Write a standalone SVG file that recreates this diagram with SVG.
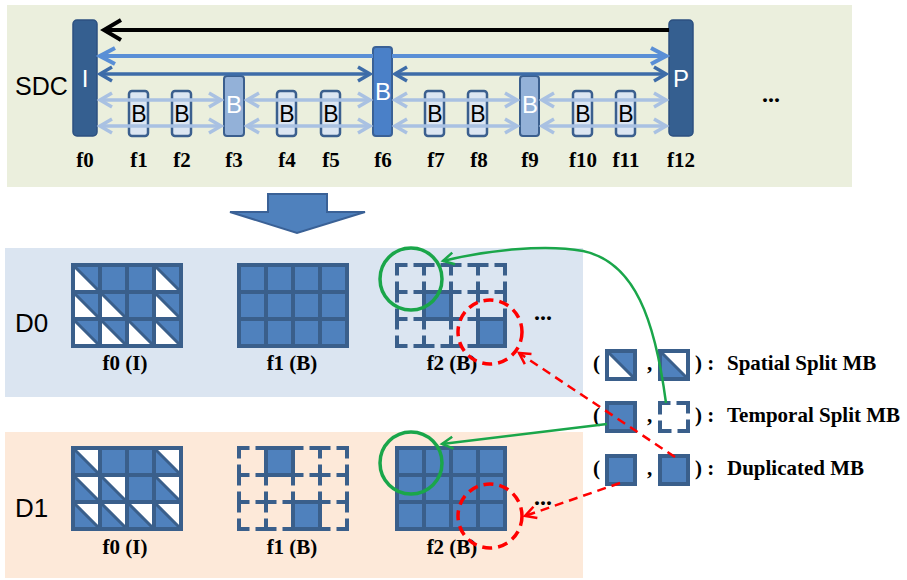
<svg xmlns="http://www.w3.org/2000/svg" width="907" height="580" viewBox="0 0 907 580">
<style>
.sans{font-family:"Liberation Sans",Arial,sans-serif}
.serifb{font-family:"Liberation Serif","Times New Roman",serif;font-weight:bold}
.lbl{font-size:21px;text-anchor:middle;fill:#000}
.flbl{font-size:21px;text-anchor:middle;fill:#000}
.leg{font-size:21px;fill:#000}
.bigbar{fill:#355f90;stroke:#2c5080;stroke-width:1.5}
.midbar{fill:#4a80c8;stroke:#3a6196;stroke-width:2}
.lightbar{fill:#93b1d8;stroke:#3b5f8e;stroke-width:2}
.small{fill:#dce6f2;stroke:#3b5f8e;stroke-width:2.5}
.wt{font-size:24px;fill:#fff;text-anchor:middle}
.bt{font-size:23px;fill:#000;text-anchor:middle}
.gfill{fill:#4f81bd}
.gl{fill:none;stroke:#3a5f8b;stroke-width:4}
.dg{fill:none;stroke:#3a5f8b;stroke-width:3}
.dl{fill:none;stroke:#3a5f8b;stroke-width:4;stroke-dasharray:8.5 10 100;stroke-linecap:square}
.cell{fill:#4f81bd;stroke:#3a5f8b;stroke-width:4}
.white{fill:#fff}
.l-black{stroke:#000;stroke-width:4;fill:none}
.l-mid{stroke:#5a8fd6;stroke-width:4;fill:none}
.l-dark{stroke:#3d6ca8;stroke-width:3.5;fill:none}
.l-pale{stroke:#a9c1e2;stroke-width:3.5;fill:none}
.l-green{stroke:#1aa64a;stroke-width:2.5;fill:none}
.l-red{stroke:#ff0000;stroke-width:2.5;fill:none;stroke-dasharray:9 6}
.c-green{stroke:#1aa64a;stroke-width:3.5;fill:none}
.c-red{stroke:#ff0000;stroke-width:3.5;fill:none;stroke-dasharray:10 6}
</style>
<defs>
<marker id="mk-black" markerUnits="userSpaceOnUse" viewBox="-22 -13 26 26" markerWidth="26" markerHeight="26" refX="0" refY="0" orient="auto-start-reverse"><path d="M-17,-10 L0,0 L-17,10" fill="none" stroke="#000" stroke-width="4"/></marker>
<marker id="mk-mid" markerUnits="userSpaceOnUse" viewBox="-20 -12 24 24" markerWidth="24" markerHeight="24" refX="0" refY="0" orient="auto-start-reverse"><path d="M-15,-8 L0,0 L-15,8" fill="none" stroke="#5a8fd6" stroke-width="4"/></marker>
<marker id="mk-dark" markerUnits="userSpaceOnUse" viewBox="-18 -11 22 22" markerWidth="22" markerHeight="22" refX="0" refY="0" orient="auto-start-reverse"><path d="M-12,-7 L0,0 L-12,7" fill="none" stroke="#3d6ca8" stroke-width="3.5"/></marker>
<marker id="mk-pale" markerUnits="userSpaceOnUse" viewBox="-18 -11 22 22" markerWidth="22" markerHeight="22" refX="0" refY="0" orient="auto-start-reverse"><path d="M-12,-7 L0,0 L-12,7" fill="none" stroke="#a9c1e2" stroke-width="3.5"/></marker>
<marker id="mk-green" markerUnits="userSpaceOnUse" viewBox="-16 -10 20 20" markerWidth="20" markerHeight="20" refX="0" refY="0" orient="auto"><path d="M-11,-6 L0,0 L-11,6" fill="none" stroke="#1aa64a" stroke-width="2.5"/></marker>
<marker id="mk-red" markerUnits="userSpaceOnUse" viewBox="-16 -10 20 20" markerWidth="20" markerHeight="20" refX="0" refY="0" orient="auto"><path d="M-11,-6 L0,0 L-11,6" fill="none" stroke="#ff0000" stroke-width="2.5"/></marker>
<rect id="gridfill" class="gfill" x="0" y="0" width="108" height="81"/>
<g id="gridlines"><rect class="gl" x="0" y="0" width="108" height="81"/><path class="gl" d="M27,0V81M54,0V81M81,0V81M0,27H108M0,54H108"/></g>
<path id="triLL" class="white" d="M0,0V27H27Z M81,0V27H108Z M0,27V54H27Z M27,27V54H54Z M81,27V54H108Z M0,54V81H27Z M27,54V81H54Z M54,54V81H81Z M81,54V81H108Z"/>
<path id="triUR" class="white" d="M0,0H27V27Z M81,0H108V27Z M0,27H27V54Z M27,27H54V54Z M81,27H108V54Z M0,54H27V81Z M27,54H54V81Z M54,54H81V81Z M81,54H108V81Z"/>
<path id="diag" class="dg" d="M0,0L27,27 M81,0L108,27 M0,27L27,54 M27,27L54,54 M81,27L108,54 M0,54L27,81 M27,54L54,81 M54,54L81,81 M81,54L108,81"/>
<path id="dashlines" class="dl" d="M0,0h27M27,0h27M54,0h27M81,0h27M0,27h27M27,27h27M54,27h27M81,27h27M0,54h27M27,54h27M54,54h27M81,54h27M0,81h27M27,81h27M54,81h27M81,81h27M0,0v27M0,27v27M0,54v27M27,0v27M27,27v27M27,54v27M54,0v27M54,27v27M54,54v27M81,0v27M81,27v27M81,54v27M108,0v27M108,27v27M108,54v27"/>
</defs>

<!-- panels -->
<g id="panel-sdc"><rect x="7" y="5" width="845" height="182" fill="#ebefdd"/></g>
<g id="panel-d0"><rect x="5" y="248" width="578" height="149" fill="#dbe5f1"/></g>
<g id="panel-d1"><rect x="5" y="432" width="578" height="146" fill="#fde9d9"/></g>

<text class="sans" x="15" y="95" font-size="25">SDC</text>
<text class="sans" x="15" y="332" font-size="26">D0</text>
<text class="sans" x="15" y="517" font-size="26">D1</text>

<!-- top frames: small B boxes -->
<g id="f1"><rect class="small" x="129" y="91" width="19" height="45" rx="3"/><text class="sans bt" x="139" y="122">B</text></g>
<g id="f2"><rect class="small" x="172" y="91" width="19" height="45" rx="3"/><text class="sans bt" x="182" y="122">B</text></g>
<g id="f4"><rect class="small" x="277" y="91" width="19" height="45" rx="3"/><text class="sans bt" x="287" y="122">B</text></g>
<g id="f5"><rect class="small" x="321" y="91" width="19" height="45" rx="3"/><text class="sans bt" x="331" y="122">B</text></g>
<g id="f7"><rect class="small" x="425" y="91" width="19" height="45" rx="3"/><text class="sans bt" x="435" y="122">B</text></g>
<g id="f8"><rect class="small" x="468" y="91" width="19" height="45" rx="3"/><text class="sans bt" x="478" y="122">B</text></g>
<g id="f10"><rect class="small" x="573" y="91" width="19" height="45" rx="3"/><text class="sans bt" x="583" y="122">B</text></g>
<g id="f11"><rect class="small" x="616" y="91" width="19" height="45" rx="3"/><text class="sans bt" x="626" y="122">B</text></g>

<!-- big bars -->
<g id="f0"><rect class="bigbar" x="73" y="20" width="24" height="116" rx="4"/><text class="sans wt" x="85" y="87" font-size="20">I</text></g>
<g id="f12"><rect class="bigbar" x="669" y="20" width="24" height="116" rx="4"/><text class="sans wt" x="681" y="87">P</text></g>
<g id="f6"><rect class="midbar" x="373" y="47" width="19" height="89" rx="3"/><text class="sans wt" x="383" y="100">B</text></g>
<g id="f3"><rect class="lightbar" x="224" y="76" width="20" height="60" rx="3"/><text class="sans wt" x="234" y="113" font-size="22">B</text></g>
<g id="f9"><rect class="lightbar" x="520" y="76" width="19" height="60" rx="3"/><text class="sans wt" x="530" y="113" font-size="22">B</text></g>

<!-- top connectors -->
<g id="sdc-connectors">
<line class="l-black" x1="669" y1="30" x2="104" y2="30" marker-end="url(#mk-black)"/>
<line class="l-mid" x1="100" y1="56" x2="373" y2="56" marker-start="url(#mk-mid)"/>
<line class="l-mid" x1="392" y1="56" x2="666" y2="56" marker-end="url(#mk-mid)"/>
<line class="l-dark" x1="100" y1="74" x2="370" y2="74" marker-start="url(#mk-dark)" marker-end="url(#mk-dark)"/>
<line class="l-dark" x1="395" y1="74" x2="666" y2="74" marker-start="url(#mk-dark)" marker-end="url(#mk-dark)"/>
<line class="l-pale" x1="100" y1="100" x2="221" y2="100" marker-start="url(#mk-pale)" marker-end="url(#mk-pale)"/>
<line class="l-pale" x1="247" y1="100" x2="370" y2="100" marker-start="url(#mk-pale)" marker-end="url(#mk-pale)"/>
<line class="l-pale" x1="395" y1="100" x2="517" y2="100" marker-start="url(#mk-pale)" marker-end="url(#mk-pale)"/>
<line class="l-pale" x1="542" y1="100" x2="666" y2="100" marker-start="url(#mk-pale)" marker-end="url(#mk-pale)"/>
<line class="l-pale" x1="100" y1="126" x2="221" y2="126" marker-start="url(#mk-pale)" marker-end="url(#mk-pale)"/>
<line class="l-pale" x1="247" y1="126" x2="370" y2="126" marker-start="url(#mk-pale)" marker-end="url(#mk-pale)"/>
<line class="l-pale" x1="395" y1="126" x2="517" y2="126" marker-start="url(#mk-pale)" marker-end="url(#mk-pale)"/>
<line class="l-pale" x1="542" y1="126" x2="666" y2="126" marker-start="url(#mk-pale)" marker-end="url(#mk-pale)"/>
</g>

<!-- frame labels -->
<g class="serifb lbl">
<text x="85" y="167">f0</text><text x="139" y="167">f1</text><text x="182" y="167">f2</text><text x="234" y="167">f3</text>
<text x="287" y="167">f4</text><text x="331" y="167">f5</text><text x="383" y="167">f6</text><text x="436" y="167">f7</text>
<text x="479" y="167">f8</text><text x="530" y="167">f9</text><text x="583" y="167">f10</text><text x="626" y="167">f11</text>
<text x="681" y="167">f12</text>
</g>
<text class="serifb" x="771" y="102" font-size="24" text-anchor="middle">...</text>

<!-- down arrow -->
<g id="down-arrow"><polygon points="268,194 327,194 327,212 365,212 297,233 230,212 268,212" fill="#4f81bd" stroke="#3a6196" stroke-width="2"/></g>

<!-- D0 grids -->
<g id="d0-f0" transform="translate(73,265)"><use href="#gridfill"/><use href="#triLL"/><use href="#diag"/><use href="#gridlines"/></g>
<g id="d0-f1" transform="translate(239,265)"><use href="#gridfill"/><use href="#gridlines"/></g>
<g id="d0-f2" transform="translate(397,265)"><use href="#dashlines"/><rect class="cell" x="27" y="27" width="27" height="27"/><rect class="cell" x="81" y="54" width="27" height="27"/></g>
<text class="serifb flbl" x="125" y="370">f0 (I)</text>
<text class="serifb flbl" x="292" y="370">f1 (B)</text>
<text class="serifb flbl" x="452" y="370">f2 (B)</text>
<text class="serifb" x="543" y="320" font-size="24" text-anchor="middle">...</text>

<!-- D1 grids -->
<g id="d1-f0" transform="translate(73,448)"><use href="#gridfill"/><use href="#triUR"/><use href="#diag"/><use href="#gridlines"/></g>
<g id="d1-f1" transform="translate(239,448)"><use href="#dashlines"/><rect class="cell" x="27" y="0" width="27" height="27"/><rect class="cell" x="54" y="54" width="27" height="27"/></g>
<g id="d1-f2" transform="translate(397,448)"><use href="#gridfill"/><use href="#gridlines"/></g>
<text class="serifb flbl" x="125" y="554">f0 (I)</text>
<text class="serifb flbl" x="292" y="554">f1 (B)</text>
<text class="serifb flbl" x="452" y="554">f2 (B)</text>
<text class="serifb" x="543" y="505" font-size="24" text-anchor="middle">...</text>

<!-- legend -->
<g id="legend-spatial">
<text class="serifb leg" x="593" y="370">(</text>
<g transform="translate(607,351)"><rect class="gfill" width="28" height="28"/><path class="white" d="M0,0V28H28Z"/><path class="dg" d="M0,0L28,28"/><rect class="gl" width="28" height="28"/></g>
<text class="serifb leg" x="647" y="370">,</text>
<g transform="translate(660,351)"><rect class="gfill" width="28" height="28"/><path class="white" d="M0,0H28V28Z"/><path class="dg" d="M0,0L28,28"/><rect class="gl" width="28" height="28"/></g>
<text class="serifb leg" x="695" y="370">) :</text>
<text class="serifb leg" x="727" y="370">Spatial Split MB</text>
</g>
<g id="legend-temporal">
<text class="serifb leg" x="593" y="422">(</text>
<rect class="cell" x="607" y="403" width="28" height="28"/>
<text class="serifb leg" x="647" y="422">,</text>
<path class="dl" stroke-dasharray="9 10 100" d="M660,403h28M688,403v28M688,431h-28M660,431v-28"/>
<text class="serifb leg" x="695" y="422">) :</text>
<text class="serifb leg" x="727" y="422">Temporal Split MB</text>
</g>
<g id="legend-duplicated">
<text class="serifb leg" x="593" y="475">(</text>
<rect class="cell" x="607" y="456" width="28" height="28"/>
<text class="serifb leg" x="647" y="475">,</text>
<rect class="cell" x="660" y="456" width="28" height="28"/>
<text class="serifb leg" x="695" y="475">) :</text>
<text class="serifb leg" x="727" y="475">Duplicated MB</text>
</g>

<!-- highlight circles -->
<g id="highlights">
<circle class="c-green" cx="411" cy="279" r="31"/>
<circle class="c-green" cx="411" cy="463" r="31"/>
<circle class="c-red" cx="490" cy="332" r="32"/>
<circle class="c-red" cx="490" cy="516" r="32"/>
</g>

<!-- connectors -->
<g id="connectors">
<path class="l-green" d="M666,403 C655,320 635,262 583,251 C545,244 488,250 443,261" marker-end="url(#mk-green)"/>
<line class="l-green" x1="607" y1="424" x2="442" y2="444" marker-end="url(#mk-green)"/>
<line class="l-red" x1="675" y1="457" x2="519" y2="353" marker-end="url(#mk-red)"/>
<line class="l-red" x1="620" y1="483" x2="525" y2="516" marker-end="url(#mk-red)"/>
</g>
</svg>
